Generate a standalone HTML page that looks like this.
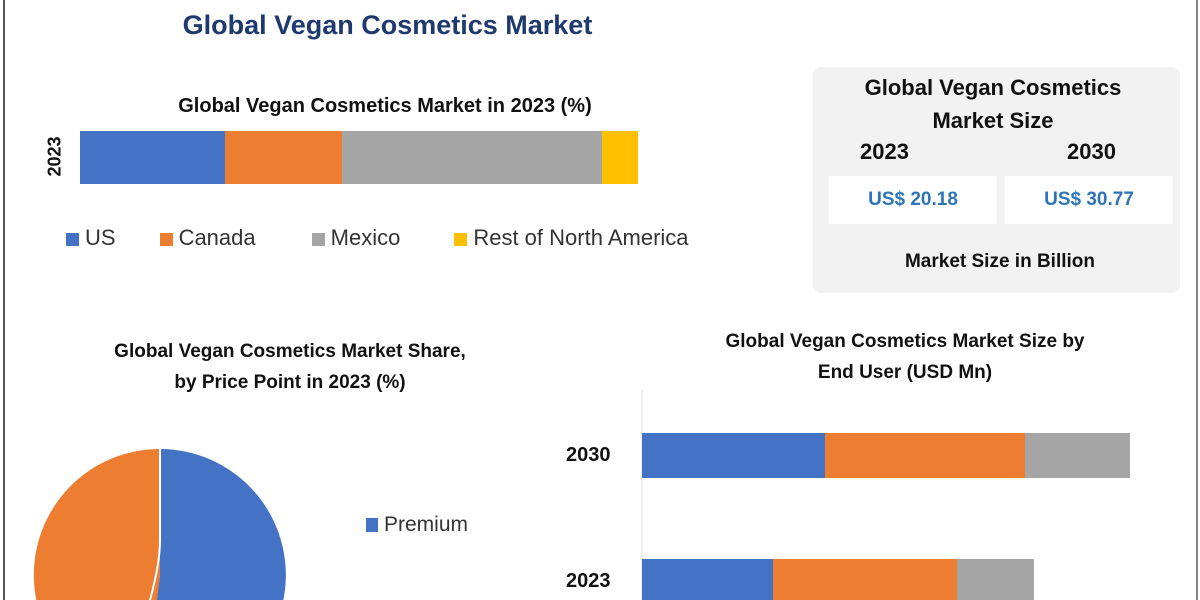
<!DOCTYPE html>
<html style="overflow:hidden"><head><style>
html,body{margin:0;width:1200px;height:600px;overflow:hidden}
body{background:#fff;position:relative;font-family:"Liberation Sans",sans-serif}
.a{position:absolute}
.t{font-weight:bold;color:#111;font-size:19px;text-align:center}
.sw{display:inline-block;width:13px;height:13px;margin-right:6px;vertical-align:-1px}
</style></head><body>
<div class="a" style="left:3px;top:0;width:2px;height:600px;background:#555"></div>
<div class="a" style="left:1196px;top:0;width:2px;height:600px;background:#888"></div>
<div class="a t" style="left:100px;top:10px;width:575px;font-size:27px;color:#1f3a6e">Global Vegan Cosmetics Market</div>
<div class="a t" style="left:120px;top:95px;width:530px;font-size:20px">Global Vegan Cosmetics Market in 2023 (%)</div>
<div class="a t" style="left:35px;top:146px;font-size:18px;transform:rotate(-90deg)">2023</div>
<div class="a" style="left:80px;top:131px;width:145px;height:53px;background:#4472c4"></div>
<div class="a" style="left:225px;top:131px;width:117px;height:53px;background:#ed7d31"></div>
<div class="a" style="left:342px;top:131px;width:260px;height:53px;background:#a5a5a5"></div>
<div class="a" style="left:602px;top:131px;width:36px;height:53px;background:#ffc000"></div>
<div class="a" style="left:66px;top:225px;font-size:22px;color:#333;white-space:nowrap">
<span class="sw" style="background:#4472c4"></span>US<span style="display:inline-block;width:44px"></span><span class="sw" style="background:#ed7d31"></span>Canada<span style="display:inline-block;width:56px"></span><span class="sw" style="background:#a5a5a5"></span>Mexico<span style="display:inline-block;width:54px"></span><span class="sw" style="background:#ffc000"></span>Rest of North America</div>
<div class="a" style="left:813px;top:67px;width:367px;height:226px;background:#f2f2f2;border-radius:8px"></div>
<div class="a t" style="left:813px;top:71px;width:360px;font-size:22px;line-height:33px">Global Vegan Cosmetics<br>Market Size</div>
<div class="a t" style="left:860px;top:139px;font-size:22px">2023</div>
<div class="a t" style="left:1067px;top:139px;font-size:22px">2030</div>
<div class="a t" style="left:829px;top:176px;width:168px;height:48px;line-height:48px;background:#fff;color:#2e75b6;font-size:19px">US$ 20.18</div>
<div class="a t" style="left:1005px;top:176px;width:168px;height:48px;line-height:48px;background:#fff;color:#2e75b6;font-size:19px">US$ 30.77</div>
<div class="a t" style="left:813px;top:251px;width:374px;font-size:19px">Market Size in Billion</div>
<div class="a t" style="left:40px;top:336px;width:500px;line-height:31px">Global Vegan Cosmetics Market Share,<br>by Price Point in 2023 (%)</div>
<svg class="a" style="left:0;top:0" width="1200" height="600">
<path d="M160,575 L160,449 A126,126 0 1 1 144,700 Z" fill="#4472c4"/>
<path d="M160,575 L144,700 A126,126 0 0 1 160,449 Z" fill="#ed7d31"/>
<path d="M160,449 L160,540 Q160,570 144,620" fill="none" stroke="#fff" stroke-width="2"/>
<line x1="642" y1="390" x2="642" y2="600" stroke="#ddd" stroke-width="1"/>
<rect x="642" y="433" width="183" height="45" fill="#4472c4"/>
<rect x="825" y="433" width="200" height="45" fill="#ed7d31"/>
<rect x="1025" y="433" width="105" height="45" fill="#a5a5a5"/>
<rect x="642" y="559" width="131" height="41" fill="#4472c4"/>
<rect x="773" y="559" width="184" height="41" fill="#ed7d31"/>
<rect x="957" y="559" width="77" height="41" fill="#a5a5a5"/>
</svg>
<div class="a" style="left:366px;top:513px;font-size:21px;color:#333"><span class="sw" style="background:#4472c4;width:12px;height:14px"></span>Premium</div>
<div class="a t" style="left:680px;top:326px;width:450px;line-height:31px">Global Vegan Cosmetics Market Size by<br>End User (USD Mn)</div>
<div class="a t" style="left:566px;top:444px;font-size:20px">2030</div>
<div class="a t" style="left:566px;top:570px;font-size:20px">2023</div>
</body></html>
